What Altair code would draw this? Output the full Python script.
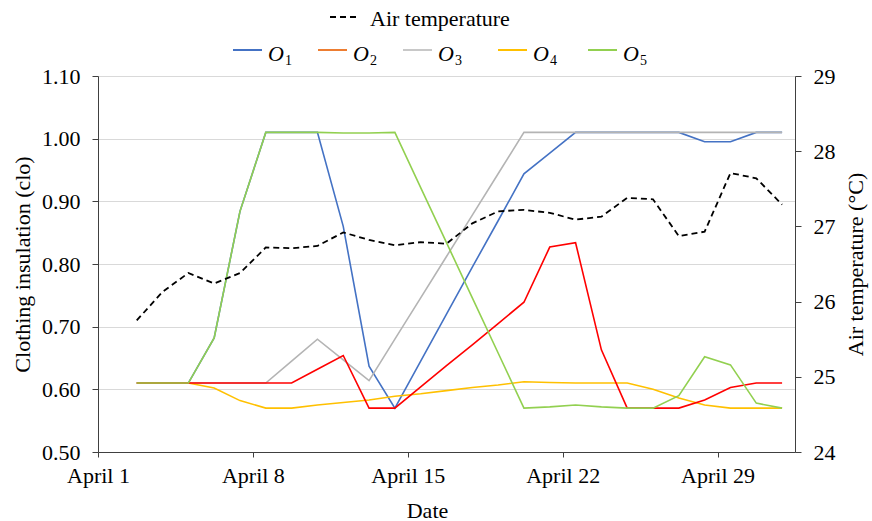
import altair as alt
import pandas as pd

# ---------------- data ----------------
obs = [0, 1, 2, 3, 4, 5, 6, 7, 8, 9, 10, 11, 12, 13, 14, 15, 16, 17, 18, 19, 20, 21, 22, 23, 24, 25]

o1 = [0.61, 0.61, 0.61, 0.682, 0.884, 1.01, 1.01, 1.01, 0.86, 0.637, 0.57, 0.645, 0.72,
      0.795, 0.869, 0.944, 0.977, 1.01, 1.01, 1.01, 1.01, 1.01, 0.995, 0.995, 1.01, 1.01]
o2 = [0.61, 0.61, 0.61, 0.61, 0.61, 0.61, 0.61, 0.632, 0.654, 0.57, 0.57, 0.604, 0.638,
      0.671, 0.705, 0.739, 0.827, 0.834, 0.663, 0.57, 0.57, 0.57, 0.583, 0.603, 0.61, 0.61]
o3 = [0.61, 0.61, 0.61, 0.61, 0.61, 0.61, 0.645, 0.68, 0.647, 0.614, 0.68, 0.746, 0.812,
      0.878, 0.944, 1.01, 1.01, 1.01, 1.01, 1.01, 1.01, 1.01, 1.01, 1.01, 1.01, 1.01]
o4 = [0.61, 0.61, 0.61, 0.602, 0.582, 0.57, 0.57, 0.575, 0.579, 0.583, 0.589, 0.593, 0.598,
      0.603, 0.607, 0.612, 0.611, 0.61, 0.61, 0.61, 0.60, 0.586, 0.575, 0.57, 0.57, 0.57]
o5 = [0.61, 0.61, 0.61, 0.682, 0.884, 1.01, 1.01, 1.01, 1.009, 1.009, 1.01, 0.922, 0.834,
      0.746, 0.658, 0.57, 0.572, 0.575, 0.572, 0.57, 0.57, 0.59, 0.652, 0.639, 0.578, 0.57]
air_temp = [25.75, 26.13, 26.38, 26.24, 26.38, 26.72, 26.71, 26.74, 26.92, 26.82, 26.75,
            26.79, 26.77, 27.04, 27.20, 27.22, 27.18, 27.09, 27.13, 27.38, 27.36, 26.87,
            26.93, 27.71, 27.64, 27.29]

x_tick_pos = [-1.5, 4.5, 10.5, 16.5, 22.5]
x_tick_labels = ["April 1", "April 8", "April 15", "April 22", "April 29"]
clo_ticks = [0.5, 0.6, 0.7, 0.8, 0.9, 1.0, 1.1]
temp_ticks = [24, 25, 26, 27, 28, 29]

series_names = ["O1", "O2", "O3", "O4", "O5"]
subscripts = ["1", "2", "3", "4", "5"]

df = pd.DataFrame({"obs": obs, "O1": o1, "O2": o2, "O3": o3, "O4": o4, "O5": o5,
                   "temp": air_temp})

# ---------------- styles ----------------
FONT = "'Liberation Serif', 'Times New Roman', Times, 'DejaVu Serif', serif"
line_colors = {"O1": "#4472C4", "O2": "#FF0000", "O3": "#B4B4B4", "O4": "#FFC000", "O5": "#92D050"}
legend_colors = {"O1": "#4472C4", "O2": "#ED7D31", "O3": "#C8C8C8", "O4": "#FFC000", "O5": "#92D050"}
AX = "#404040"

label_expr = "[" + ",".join("'%s'" % s for s in x_tick_labels) + "][indexof([" + \
    ",".join(str(v) for v in x_tick_pos) + "], datum.value)]"

x_enc = alt.X("obs:Q",
              scale=alt.Scale(domain=[-1.5, 25.5], nice=False, zero=False),
              axis=alt.Axis(values=x_tick_pos, labelExpr=label_expr, title="Date",
                            grid=False, tickSize=5, labelPadding=8,
                            titleX=329, titleY=58, titleBaseline="middle",
                            labelFlush=False))

clo_axis = alt.Axis(values=clo_ticks, format=".2f", title="Clothing insulation (clo)",
                    orient="left", grid=True, gridColor="#D9D9D9", gridWidth=1.2,
                    tickSize=6, labelPadding=12,
                    titleAngle=270, titleX=-76, titleY=188,
                    titleAlign="center", titleBaseline="middle")

temp_axis = alt.Axis(values=temp_ticks, format="d", title="Air temperature (°C)",
                     orient="right", grid=False, tickSize=6, labelPadding=12,
                     titleAngle=270, titleX=60, titleY=188, titleAlign="center",
                     titleBaseline="middle")

clo_scale = alt.Scale(domain=[0.5, 1.1], nice=False, zero=False)

draw_order = ["O1", "O3", "O4", "O2", "O5"]
clo_layers = []
for name in draw_order:
    clo_layers.append(
        alt.Chart(df).mark_line(strokeWidth=1.6, color=line_colors[name]).encode(
            x=x_enc,
            y=alt.Y(f"{name}:Q", scale=clo_scale, axis=clo_axis),
        )
    )
clo = alt.layer(*clo_layers)

temp = alt.Chart(df).mark_line(strokeWidth=1.8, color="black", strokeDash=[6, 4]).encode(
    x=x_enc,
    y=alt.Y("temp:Q", scale=alt.Scale(domain=[24, 29], nice=False, zero=False), axis=temp_axis),
)

# ---------------- manual legend ----------------
one = pd.DataFrame({"k": [0]})
leg = []
leg.append(alt.Chart(one).mark_rule(color="black", strokeWidth=1.8, strokeDash=[6, 4]).encode(
    x=alt.value(232), x2=alt.value(262), y=alt.value(-59)))
leg.append(alt.Chart(one).mark_text(font=FONT, fontSize=22, align="left",
                                    baseline="alphabetic", color="black").encode(
    x=alt.value(272), y=alt.value(-50), text=alt.value("Air temperature")))

swatch_x = [135, 220, 305, 400, 490]
for name, sub, sx in zip(series_names, subscripts, swatch_x):
    leg.append(alt.Chart(one).mark_rule(color=legend_colors[name], strokeWidth=2).encode(
        x=alt.value(sx), x2=alt.value(sx + 29), y=alt.value(-26)))
    leg.append(alt.Chart(one).mark_text(font=FONT, fontSize=22, fontStyle="italic",
                                        align="left", baseline="alphabetic",
                                        color="black").encode(
        x=alt.value(sx + 35), y=alt.value(-15), text=alt.value("O")))
    leg.append(alt.Chart(one).mark_text(font=FONT, fontSize=14, align="left",
                                        baseline="alphabetic", color="black").encode(
        x=alt.value(sx + 52), y=alt.value(-11), text=alt.value(sub)))

chart = alt.layer(clo, temp, *leg).resolve_scale(y="independent").properties(
    width=697, height=376,
    padding={"left": 98, "top": 76, "right": 77, "bottom": 69},
    autosize=alt.AutoSizeParams(type="none"),
).configure_view(strokeWidth=0).configure(background="white").configure_axis(
    labelFont=FONT, labelFontSize=22, labelColor="black",
    titleFont=FONT, titleFontSize=22, titleFontWeight="normal", titleColor="black",
    domainColor=AX, tickColor=AX,
)

chart.save("out.html", embed_options={"renderer": "svg", "actions": False})
